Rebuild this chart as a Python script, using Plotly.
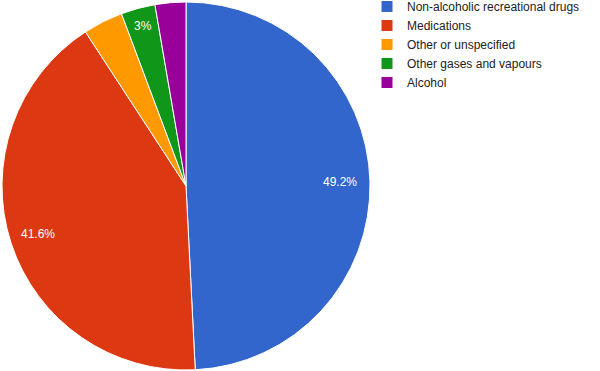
import math
import plotly.graph_objects as go

labels = ["Non-alcoholic recreational drugs", "Medications", "Other or unspecified",
          "Other gases and vapours", "Alcohol"]
values = [49.2, 41.6, 3.5, 3.0, 2.7]
colors = ["#3366cc", "#dc3912", "#ff9900", "#109618", "#990099"]
shown_labels = ["49.2%", "41.6%", "", "3%", ""]

# styling: radial placement of slice labels (fraction of radius)
label_radius = [0.835, 0.845, 0.0, 0.9, 0.0]

W, H = 600, 371
CX, CY, R = 186, 186, 184  # pie centre / radius in px

fig = go.Figure(go.Pie(
    labels=labels,
    values=values,
    sort=False,
    direction="clockwise",
    rotation=0,
    marker=dict(colors=colors, line=dict(color="white", width=1)),
    textinfo="none",
    hoverinfo="label+percent",
    domain=dict(x=[(CX - R) / W, (CX + R) / W], y=[(H - CY - R) / H, (H - CY + R) / H]),
))

# slice labels placed along each slice's bisector
total = sum(values)
cum = 0.0
for v, txt, rf in zip(values, shown_labels, label_radius):
    mid = (cum + v / 2) / total * 2 * math.pi
    cum += v
    if not txt:
        continue
    px = CX + rf * R * math.sin(mid)
    py = CY - rf * R * math.cos(mid)
    fig.add_annotation(
        x=px / W, y=1 - py / H, xref="paper", yref="paper",
        text=txt, showarrow=False, xanchor="center", yanchor="middle",
        font=dict(family="Arial, Liberation Sans, sans-serif", size=12, color="white"),
    )

fig.update_layout(
    width=W, height=H,
    margin=dict(l=0, r=0, t=0, b=0, autoexpand=False),
    paper_bgcolor="white",
    plot_bgcolor="white",
    showlegend=True,
    legend=dict(
        x=367 / W, y=1 + 8 / H, xanchor="left", yanchor="top",
        font=dict(family="Arial, Liberation Sans, sans-serif", size=12, color="#222222"),
        bgcolor="rgba(0,0,0,0)",
        borderwidth=0,
    ),
)

fig.write_html("out.html", config={"displayModeBar": False},
               post_script="document.body.style.margin='0';")
